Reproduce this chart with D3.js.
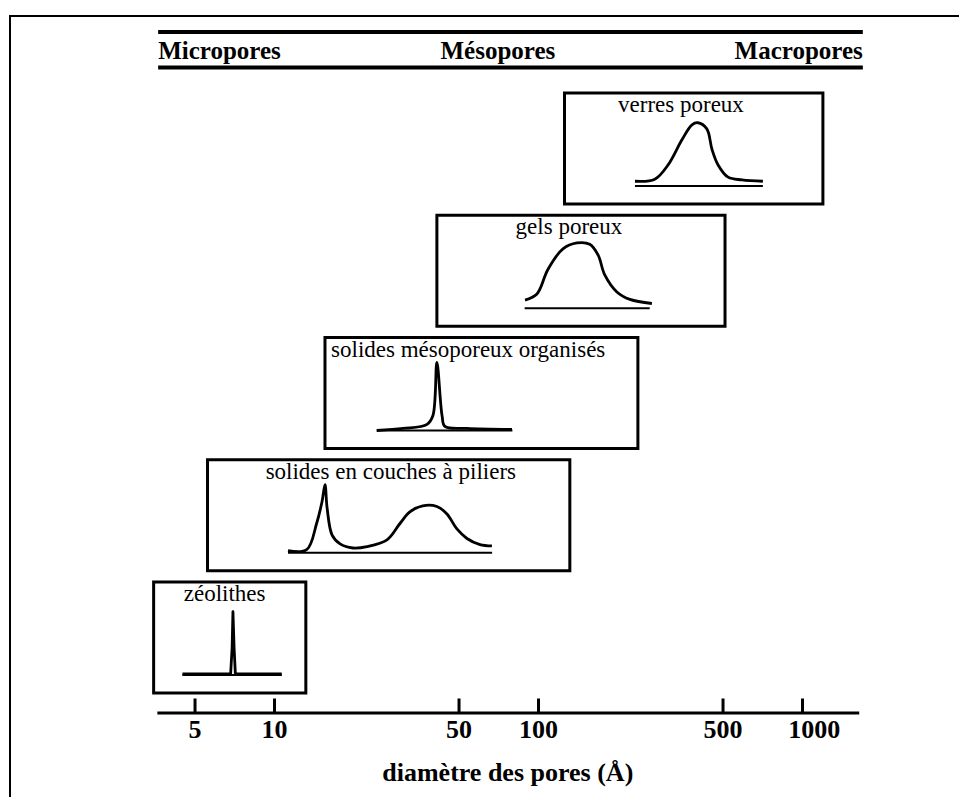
<!DOCTYPE html>
<html>
<head>
<meta charset="utf-8">
<script src="https://cdn.jsdelivr.net/npm/d3@7"></script>
<style>
  body { margin: 0; background: #fff; }
  svg { display: block; font-family: "Liberation Serif", "Times New Roman", serif; }
</style>
</head>
<body>
<div id="chart"></div>
<script>
// pore classes shown in the header
const headerLabels = ["Micropores", "Mésopores", "Macropores"];
const headerAt = [3.64, 70.5, 1700];          // diameters (Å) where each label sits
const headerExtent = [3.64, 1700];

// materials, bottom to top
const materials = ["zéolithes", "solides en couches à piliers", "solides mésoporeux organisés", "gels poreux", "verres poreux"];
const boxRanges = [[3.5, 13.2], [5.6, 132], [15.6, 239], [41.4, 511], [126, 1200]];
const baseRanges = [[4.5, 10.7], [11.3, 67], [24.5, 80], [89, 265], [233, 711]];
const labelAt = [6.5, 27.7, 54.4, 131, 348];

// pore size distributions: [diameter Å, relative intensity]
const zeoliteCurve = [[4.5, 0.015], [6.85, 0.015], [6.94, 0.4], [6.99, 0.93], [7.06, 0.4], [7.14, 0.015], [10.7, 0.015]];
const pillaredCurve = [[11.3, 0.03], [13.3, 0.045], [14.5, 0.43], [15.2, 0.75], [15.6, 1.0], [15.9, 0.65], [16.6, 0.26],
  [17.8, 0.13], [19.9, 0.07], [22.5, 0.09], [26.8, 0.19], [30.0, 0.43], [32.7, 0.6], [36.6, 0.69], [41.4, 0.68],
  [45.2, 0.57], [49.3, 0.35], [53.8, 0.21], [60.3, 0.12], [66.9, 0.1]];
const mesoCurve = [[24.5, 0.0], [30.8, 0.03], [38.0, 0.09], [40.0, 0.22], [41.4, 1.0], [43.3, 0.22], [44.4, 0.06], [53.8, 0.03], [79.7, 0.015]];
const gelCurve = [[89.3, 0.12], [99.1, 0.21], [109, 0.57], [124, 0.87], [140.5, 0.96], [157, 0.94], [169, 0.78],
  [179, 0.49], [199, 0.24], [223, 0.13], [270, 0.07]];
const glassCurve = [[233, 0.07], [277, 0.1], [311, 0.31], [351, 0.68], [383, 0.9], [403, 0.93], [436, 0.84],
  [456, 0.54], [481, 0.31], [525, 0.13], [593, 0.09], [711, 0.07]];
const curves = [zeoliteCurve, pillaredCurve, mesoCurve, gelCurve, glassCurve];

// axis
const tickValues = [5, 10, 50, 100, 500, 1000];
const axisExtent = [3.6, 1640];
const axisTitle = "diamètre des pores (Å)";

const width = 959, height = 797;
const boxHeight = 111;
const baseOffset = 93, peakHeight = 68;
const axisY = 712.5;

const svg = d3.select("#chart").append("svg")
  .attr("width", width)
  .attr("height", height);

const x = d3.scaleLog().domain([10, 1000]).range([274, 802]);
const rowTop = d3.scaleLinear().domain([0, materials.length - 1]).range([582, 93]);

// outer frame (top and left only)
svg.append("path")
  .attr("d", `M10,${height} V16 H${width}`)
  .attr("fill", "none")
  .attr("stroke", "#000")
  .attr("stroke-width", 2);

// header
const header = svg.append("g");
[32, 67.5].forEach(yy => {
  header.append("line")
    .attr("x1", x(headerExtent[0])).attr("x2", x(headerExtent[1]))
    .attr("y1", yy).attr("y2", yy)
    .attr("stroke", "#000").attr("stroke-width", 3.8);
});
header.selectAll("text")
  .data(headerLabels)
  .join("text")
  .attr("x", (d, i) => x(headerAt[i]))
  .attr("y", 59)
  .attr("text-anchor", (d, i) => ["start", "middle", "end"][i])
  .attr("font-size", 25)
  .attr("font-weight", "bold")
  .text(d => d);

// material panels
const smooth = d3.line().curve(d3.curveCatmullRom.alpha(0.5));
const sharp = d3.line();   // the zeolite spike is just a straight needle

materials.forEach((name, i) => {
  const top = rowTop(i);
  const y = d3.scaleLinear().domain([0, 1]).range([top + baseOffset, top + baseOffset - peakHeight]);
  const g = svg.append("g");

  g.append("rect")
    .attr("x", x(boxRanges[i][0]))
    .attr("y", top)
    .attr("width", x(boxRanges[i][1]) - x(boxRanges[i][0]))
    .attr("height", boxHeight)
    .attr("fill", "none")
    .attr("stroke", "#000")
    .attr("stroke-width", 3);

  g.append("text")
    .attr("x", x(labelAt[i]))
    .attr("y", top + 19)
    .attr("text-anchor", "middle")
    .attr("font-size", 23)
    .text(name);

  g.append("line")
    .attr("x1", x(baseRanges[i][0])).attr("x2", x(baseRanges[i][1]))
    .attr("y1", y(0)).attr("y2", y(0))
    .attr("stroke", "#000").attr("stroke-width", 1.8);

  const gen = i === 0 ? sharp : smooth;
  g.append("path")
    .attr("d", gen(curves[i].map(p => [x(p[0]), y(p[1])])))
    .attr("fill", "none")
    .attr("stroke", "#000")
    .attr("stroke-width", 2.8)
    .attr("stroke-linejoin", "round");
});

// bottom axis, ticks pointing up
const axisScale = x.copy().domain(axisExtent).range(axisExtent.map(x));
const axis = svg.append("g")
  .attr("transform", `translate(0,${axisY})`)
  .call(d3.axisBottom(axisScale)
    .tickValues(tickValues)
    .tickFormat(d3.format("d"))
    .tickSizeInner(-14)
    .tickSizeOuter(0)
    .tickPadding(7));

axis.select(".domain").attr("stroke", "#000").attr("stroke-width", 3);
axis.selectAll(".tick line").attr("stroke", "#000").attr("stroke-width", 3);
axis.selectAll(".tick text")
  .attr("fill", "#000")
  .attr("font-size", 26)
  .attr("font-weight", "bold")
  .attr("font-family", "Liberation Serif, Times New Roman, serif")
  .attr("dx", d => d === 1000 ? "0.45em" : null);

svg.append("text")
  .attr("x", (axisScale.range()[0] + axisScale.range()[1]) / 2)
  .attr("y", 781)
  .attr("text-anchor", "middle")
  .attr("font-size", 26)
  .attr("font-weight", "bold")
  .text(axisTitle);
</script>
</body>
</html>
